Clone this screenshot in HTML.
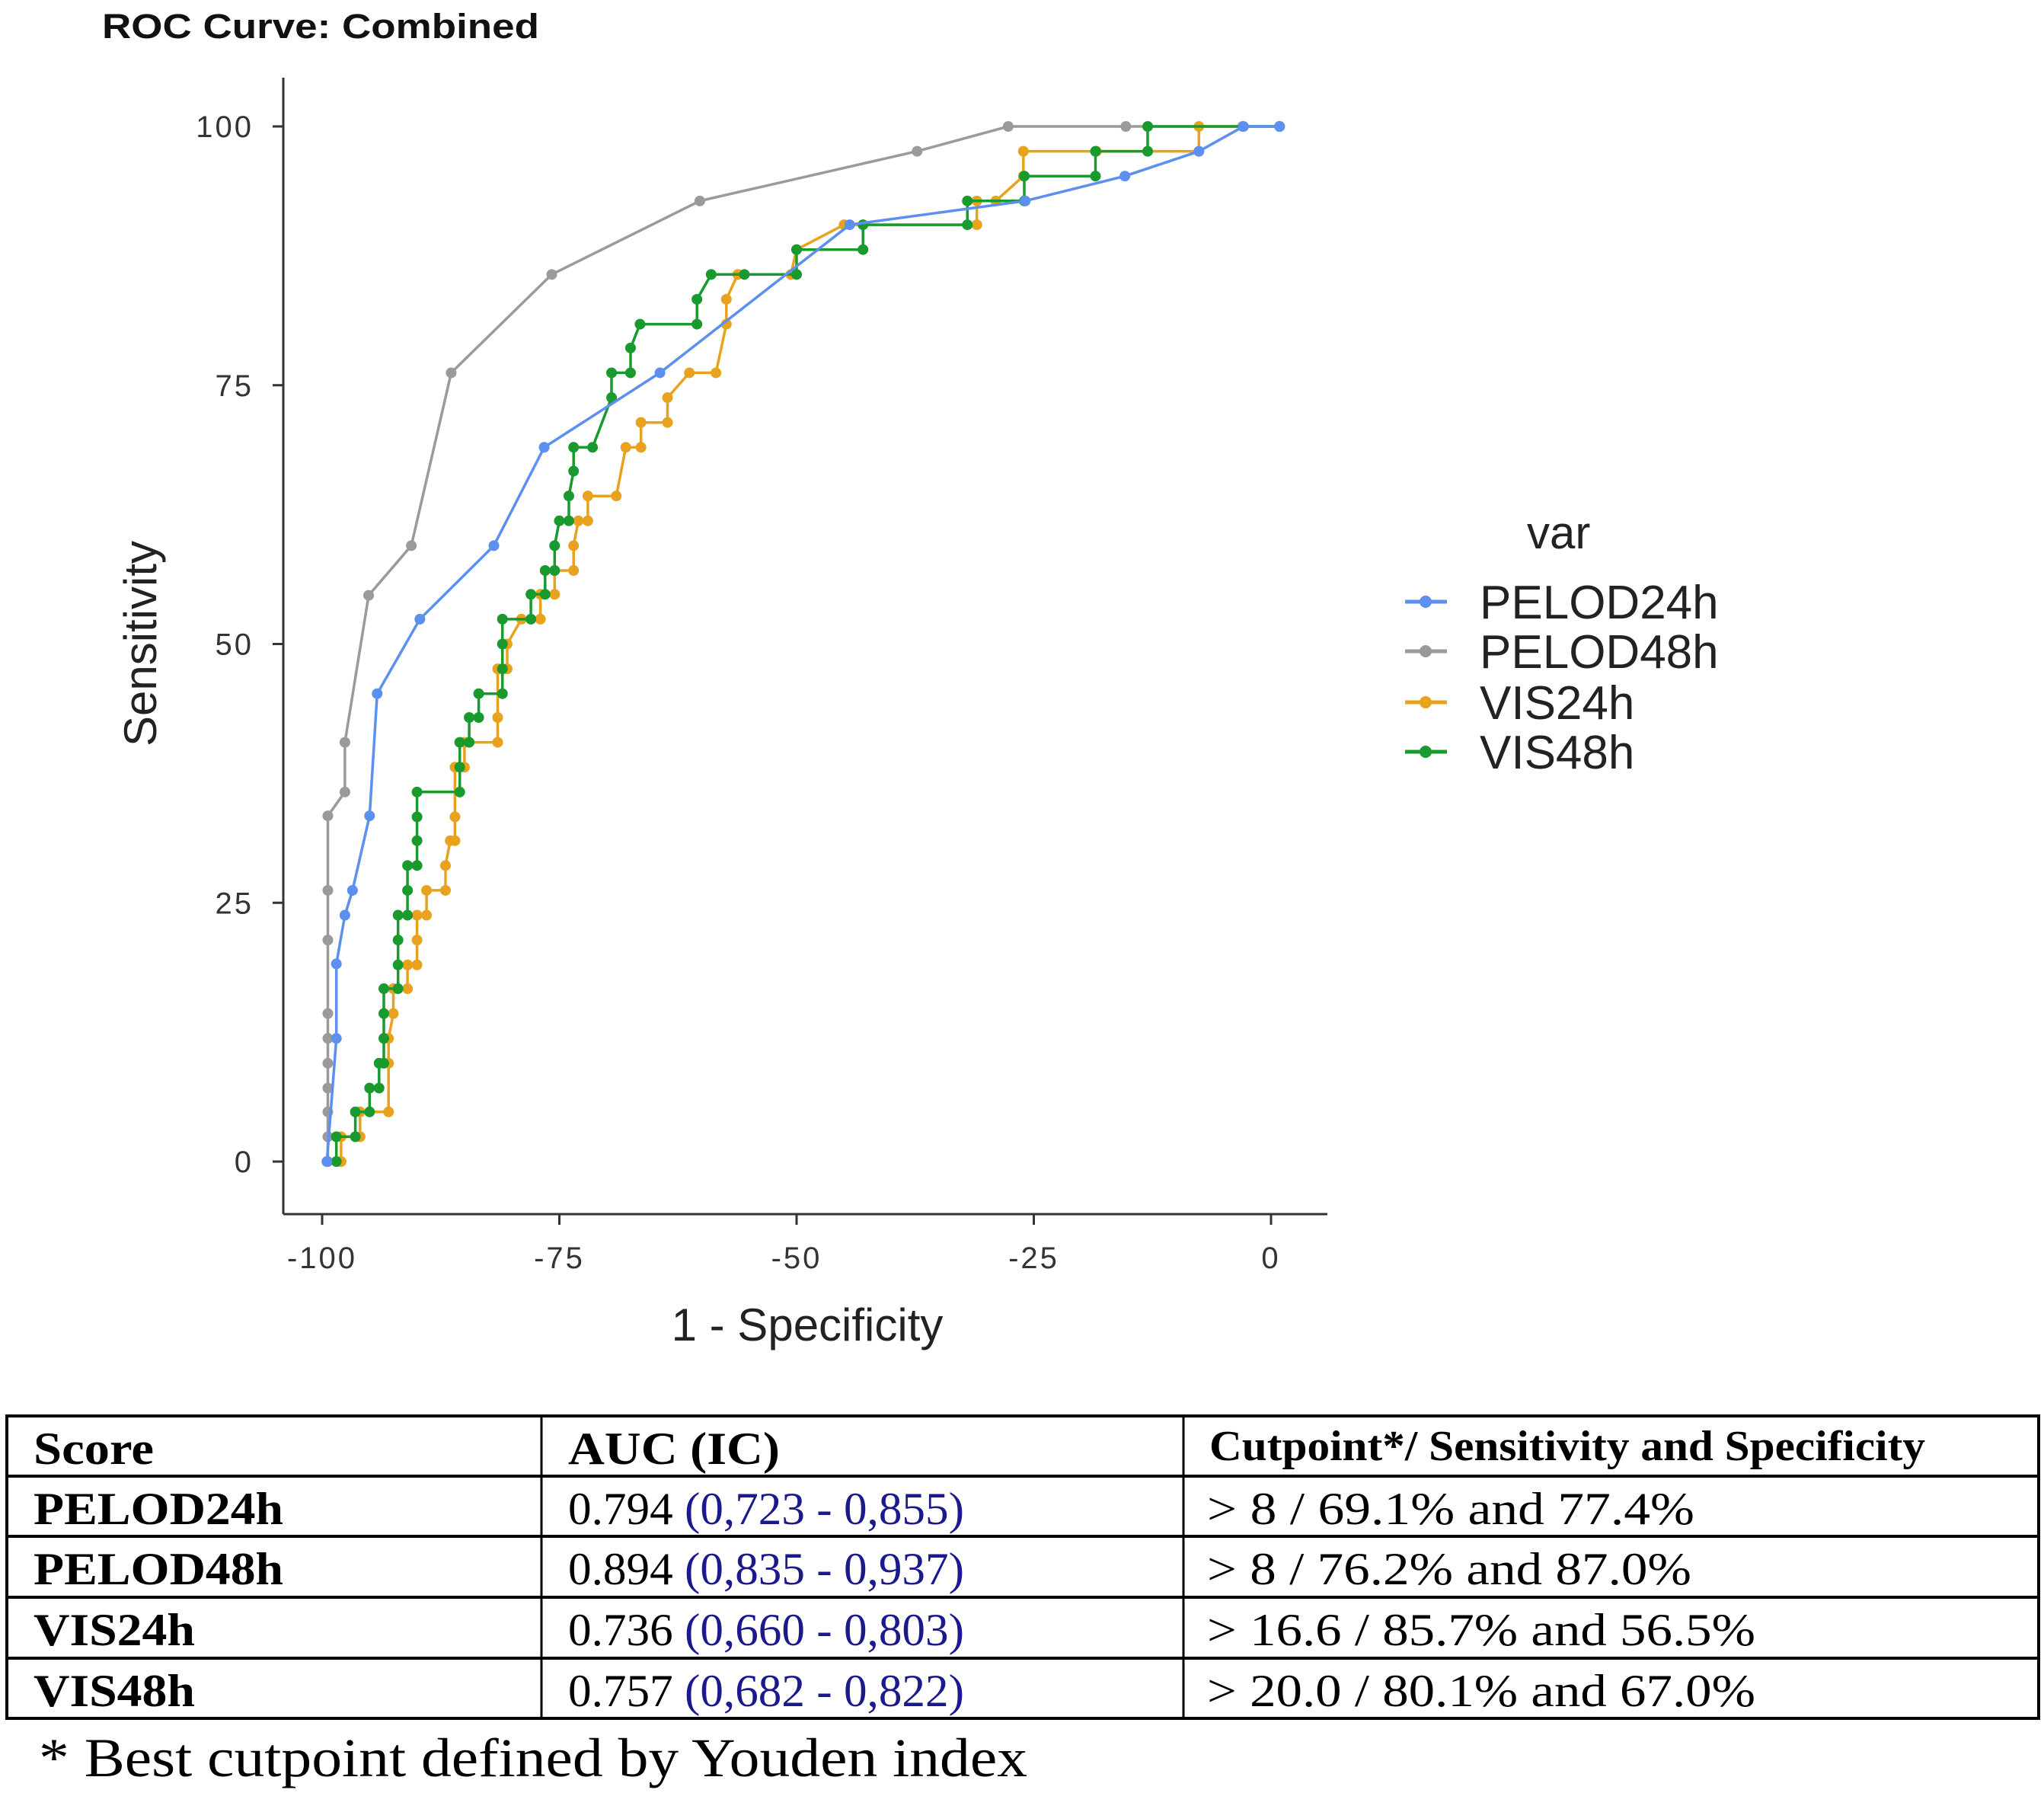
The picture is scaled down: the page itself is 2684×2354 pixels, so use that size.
<!DOCTYPE html>
<html><head><meta charset="utf-8"><style>
html,body{margin:0;padding:0;background:#fff;}
svg{display:block;}
</style></head><body>
<svg id="chart" width="2684" height="2354" viewBox="0 0 2684 2354" xmlns="http://www.w3.org/2000/svg">
<text x="134" y="50" font-family="Liberation Sans, sans-serif" font-weight="bold" font-size="45" fill="#111" textLength="574" lengthAdjust="spacingAndGlyphs">ROC Curve: Combined</text>
<g id="axes"></g>
<g id="series"></g>
<text x="1060" y="1760" text-anchor="middle" font-family="Liberation Sans, sans-serif" font-size="60" fill="#222">1 - Specificity</text>
<text transform="translate(205,845) rotate(-90)" text-anchor="middle" font-family="Liberation Sans, sans-serif" font-size="60" fill="#222">Sensitivity</text>
<g id="legend">
<text x="2005" y="720" font-family="Liberation Sans, sans-serif" font-size="60" fill="#222">var</text>
</g>
<g font-family="Liberation Serif, serif" font-size="60" fill="#000">
<rect x="9" y="1859" width="2668" height="397" fill="none" stroke="#000" stroke-width="4"/>
<line x1="9" y1="1938" x2="2677" y2="1938" stroke="#000" stroke-width="4"/>
<line x1="9" y1="2017" x2="2677" y2="2017" stroke="#000" stroke-width="4"/>
<line x1="9" y1="2097" x2="2677" y2="2097" stroke="#000" stroke-width="4"/>
<line x1="9" y1="2177" x2="2677" y2="2177" stroke="#000" stroke-width="4"/>
<line x1="711" y1="1859" x2="711" y2="2256" stroke="#000" stroke-width="3"/>
<line x1="1554" y1="1859" x2="1554" y2="2256" stroke="#000" stroke-width="3"/>
<g font-weight="bold">
<text x="44" y="1922" textLength="158" lengthAdjust="spacingAndGlyphs">Score</text>
<text x="746" y="1922" textLength="278" lengthAdjust="spacingAndGlyphs">AUC (IC)</text>
<text x="1588" y="1917" font-size="56" textLength="940" lengthAdjust="spacingAndGlyphs">Cutpoint*/ Sensitivity and Specificity</text>
<text x="44" y="2001" textLength="328" lengthAdjust="spacingAndGlyphs">PELOD24h</text>
<text x="44" y="2080" textLength="328" lengthAdjust="spacingAndGlyphs">PELOD48h</text>
<text x="44" y="2160" textLength="212" lengthAdjust="spacingAndGlyphs">VIS24h</text>
<text x="44" y="2240" textLength="212" lengthAdjust="spacingAndGlyphs">VIS48h</text>
</g>
<text x="746" y="2001" textLength="520" lengthAdjust="spacingAndGlyphs">0.794 <tspan fill="#1a1a8c">(0,723 - 0,855)</tspan></text>
<text x="746" y="2080" textLength="520" lengthAdjust="spacingAndGlyphs">0.894 <tspan fill="#1a1a8c">(0,835 - 0,937)</tspan></text>
<text x="746" y="2160" textLength="520" lengthAdjust="spacingAndGlyphs">0.736 <tspan fill="#1a1a8c">(0,660 - 0,803)</tspan></text>
<text x="746" y="2240" textLength="520" lengthAdjust="spacingAndGlyphs">0.757 <tspan fill="#1a1a8c">(0,682 - 0,822)</tspan></text>
<text x="1585" y="2001" textLength="640" lengthAdjust="spacingAndGlyphs">&gt; 8 / 69.1% and 77.4%</text>
<text x="1585" y="2080" textLength="636" lengthAdjust="spacingAndGlyphs">&gt; 8 / 76.2% and 87.0%</text>
<text x="1585" y="2160" textLength="720" lengthAdjust="spacingAndGlyphs">&gt; 16.6 / 85.7% and 56.5%</text>
<text x="1585" y="2240" textLength="720" lengthAdjust="spacingAndGlyphs">&gt; 20.0 / 80.1% and 67.0%</text>
<text x="51" y="2332" font-size="72" textLength="1298" lengthAdjust="spacingAndGlyphs">* Best cutpoint defined by Youden index</text>
</g>
</svg>
<script>
const seriesNames = ["PELOD24h","PELOD48h","VIS24h","VIS48h"];
const seriesColors = ["#5b8ff0","#9a9a9a","#e8a21e","#189a2e"];
const xTicks = [-100,-75,-50,-25,0];
const yTicks = [0,25,50,75,100];
const pelod24X = [-99.5,-98.5,-98.5,-97.6,-96.8,-95,-94.2,-89.7,-81.9,-76.6,-64.4,-44.4,-25.9,-15.4,-7.6,-2.9,0.9];
const pelod24Y = [0,11.9,19.1,23.8,26.2,33.4,45.2,52.4,59.5,69,76.2,90.5,92.8,95.2,97.6,100,100];
const pelod48X = [-99.4,-99.4,-99.4,-99.4,-99.4,-99.4,-99.4,-99.4,-99.4,-99.4,-97.6,-97.6,-95.1,-90.6,-86.4,-75.8,-60.2,-37.3,-27.7,-15.3,-3,0.9];
const pelod48Y = [0,2.4,4.8,7.1,9.5,11.9,14.3,21.4,26.2,33.4,35.7,40.5,54.7,59.5,76.2,85.7,92.8,97.6,100,100,100,100];
const vis24X = [-98,-98,-96,-96,-93,-93,-93,-92.5,-92.5,-91,-91,-90,-90,-90,-89,-89,-87,-87,-86.5,-86,-86,-86,-85,-85,-81.5,-81.5,-81.5,-80.5,-80.5,-79,-77,-77,-75.5,-75.5,-73.5,-73.5,-73,-72,-72,-69,-68,-66.4,-66.4,-63.6,-63.6,-61.3,-58.5,-57.4,-57.4,-56.2,-50.6,-50,-45,-31,-31,-29,-26.1,-26.1,-18.4,-7.6,-7.6,0.9];
const vis24Y = [0,2.4,2.4,4.8,4.8,9.5,11.9,14.3,16.7,16.7,19,19,21.4,23.8,23.8,26.2,26.2,28.6,31,31,33.3,38.1,38.1,40.5,40.5,42.9,47.6,47.6,50,52.4,52.4,54.8,54.8,57.1,57.1,59.5,61.9,61.9,64.3,64.3,69,69,71.4,71.4,73.8,76.2,76.2,80.9,83.3,85.7,85.7,88.1,90.5,90.5,92.8,92.8,95.2,97.6,97.6,97.6,100,100];
const vis48X = [-98.5,-98.5,-96.5,-96.5,-95,-95,-94,-94,-93.5,-93.5,-93.5,-93.5,-92,-92,-92,-92,-91,-91,-91,-90,-90,-90,-90,-85.5,-85.5,-85.5,-84.5,-84.5,-83.5,-83.5,-81,-81,-81,-81,-78,-78,-76.5,-76.5,-75.5,-75.5,-75,-74,-74,-73.5,-73.5,-71.5,-69.5,-69.5,-67.5,-67.5,-66.5,-60.5,-60.5,-59,-55.5,-50,-50,-43,-43,-32,-32,-26,-26,-18.5,-18.5,-13,-13,0.9];
const vis48Y = [0,2.4,2.4,4.8,4.8,7.1,7.1,9.5,9.5,11.9,14.3,16.7,16.7,19,21.4,23.8,23.8,26.2,28.6,28.6,31,33.3,35.7,35.7,38.1,40.5,40.5,42.9,42.9,45.2,45.2,47.6,50,52.4,52.4,54.8,54.8,57.1,57.1,59.5,61.9,61.9,64.3,66.7,69,69,73.8,76.2,76.2,78.6,80.9,80.9,83.3,85.7,85.7,85.7,88.1,88.1,90.5,90.5,92.8,92.8,95.2,95.2,97.6,97.6,100,100];

const NS = "http://www.w3.org/2000/svg";
const X0 = 423, X1 = 1669, Y0 = 1525, Y1 = 166;
function xs(v){ return X0 + (v + 100) / 100 * (X1 - X0); }
function ys(v){ return Y0 - v / 100 * (Y0 - Y1); }
function mk(tag, attrs, parent){
  const e = document.createElementNS(NS, tag);
  for (const k in attrs) e.setAttribute(k, attrs[k]);
  parent.appendChild(e);
  return e;
}
const axes = document.getElementById("axes");
const xAxisLine = mk("line", {x1:372, y1:1594, x2:1743, y2:1594, stroke:"#333", "stroke-width":3}, axes);


const yAxisLine = mk("line", {x1:372, y1:102, x2:372, y2:1594, stroke:"#333", "stroke-width":3}, axes);


xTicks.forEach(t => {
  const tk = mk("line", {x1:xs(t), y1:1594, x2:xs(t), y2:1608, stroke:"#333", "stroke-width":3}, axes);
  
  
  const lb = mk("text", {x:xs(t), y:1665, "text-anchor":"middle", "font-family":"Liberation Sans, sans-serif", "font-size":40, fill:"#333", "letter-spacing":"3"}, axes);
  lb.textContent = String(t);
  
  
});
yTicks.forEach(t => {
  const tk = mk("line", {x1:358, y1:ys(t), x2:372, y2:ys(t), stroke:"#333", "stroke-width":3}, axes);
  
  
  const lb = mk("text", {x:333, y:ys(t)+14, "text-anchor":"end", "font-family":"Liberation Sans, sans-serif", "font-size":40, fill:"#333", "letter-spacing":"3"}, axes);
  lb.textContent = String(t);
  
  
});
const seriesG = document.getElementById("series");
const allX = [pelod48X, vis24X, vis48X, pelod24X];
const allY = [pelod48Y, vis24Y, vis48Y, pelod24Y];
const order = [1,2,3,0];
order.forEach((si, k) => {
  const xsArr = allX[k], ysArr = allY[k];
  const g = mk("g", {}, seriesG);
  
  
  const pts = xsArr.map((v,i) => xs(v).toFixed(1) + "," + ys(ysArr[i]).toFixed(1)).join(" ");
  const pl = mk("polyline", {points:pts, fill:"none", stroke:seriesColors[si], "stroke-width":3.5}, g);
  
  
  xsArr.forEach((v,i) => {
    const c = mk("circle", {cx:xs(v), cy:ys(ysArr[i]), r:7, fill:seriesColors[si]}, g);
    
    
  });
});
const legend = document.getElementById("legend");
const legY = [790, 855, 922, 987];
seriesNames.forEach((n, i) => {
  const g = mk("g", {}, legend);
  
  
  mk("line", {x1:1845, y1:legY[i], x2:1900, y2:legY[i], stroke:seriesColors[i], "stroke-width":5}, g);
  mk("circle", {cx:1872, cy:legY[i], r:8, fill:seriesColors[i]}, g);
  const t = mk("text", {x:1943, y:legY[i]+22, "font-family":"Liberation Sans, sans-serif", "font-size":62, fill:"#222"}, g);
  t.textContent = n;
  
  
});
</script>
</body></html>
